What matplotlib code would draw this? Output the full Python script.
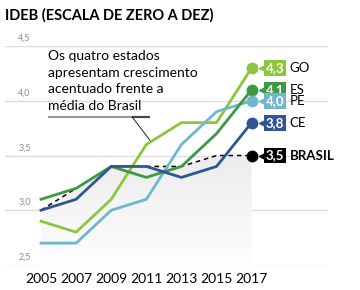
import numpy as np
import matplotlib.pyplot as plt
from matplotlib.patches import Polygon

years = [2005, 2007, 2009, 2011, 2013, 2015, 2017]
go = [2.9, 2.8, 3.1, 3.6, 3.8, 3.8, 4.3]
es = [3.1, 3.2, 3.4, 3.3, 3.4, 3.7, 4.1]
pe = [2.7, 2.7, 3.0, 3.1, 3.6, 3.9, 4.0]
ce = [3.0, 3.1, 3.4, 3.4, 3.3, 3.4, 3.8]
brasil = [3.0, 3.2, 3.4, 3.4, 3.4, 3.5, 3.5]
yticks = [2.5, 3.0, 3.5, 4.0, 4.5]

plt.rcParams['font.family'] = ['Lato', 'DejaVu Sans']

fig = plt.figure(figsize=(3.6, 2.9), dpi=100)
ax = fig.add_axes([5 / 360, 1 - 265 / 290, 323 / 360, 219 / 290])
ax.set_xlim(2002.95, 2021.35)
ax.set_ylim(2.5, 4.5)
ax.axis('off')

# gridlines + y labels
for t in yticks:
    ax.axhline(t, color='#dddddd', lw=1, zorder=0)
    ax.text(2003.7, t + 0.03, f"{t:.1f}".replace('.', ','), color='#8a8a8a',
            fontsize=6.5, va='bottom', ha='left')

# gradient fill under Brasil
verts = [(years[0], 2.5)] + list(zip(years, brasil)) + [(years[-1], 2.5)]
poly = Polygon(verts, closed=True, facecolor='none', edgecolor='none')
ax.add_patch(poly)
grad = np.linspace(0, 1, 256).reshape(-1, 1)
img = ax.imshow(grad, extent=[years[0], years[-1], 2.5, 3.5], aspect='auto',
                cmap='Greys', vmin=-0.1, vmax=7, origin='lower', zorder=1)
img.set_clip_path(poly)

ax.plot(years, brasil, color='black', lw=1.1, ls=(0, (3, 2.5)), zorder=2)
series = [(go, '#8cc63f'), (pe, '#6fb6cf'), (es, '#3d9a40'), (ce, '#2f5597')]
for vals, c in series:
    ax.plot(years, vals, color=c, lw=2, zorder=3, solid_joinstyle='round')

# end markers and labels
ends = [(go, '#8cc63f', 'GO'), (es, '#3d9a40', 'ES'), (pe, '#6fb6cf', 'PE'),
        (ce, '#2f5597', 'CE'), (brasil, 'black', 'BRASIL')]
for vals, c, name in ends:
    v = vals[-1]
    ax.plot(years[-1], v, 'o', color=c, ms=7.5, zorder=4)
    ax.plot(2017.6, v, '<', color=c, ms=4, zorder=4)
    ax.text(2017.8, v, f"{v:.1f}".replace('.', ','), color='white',
            fontsize=9.5, fontweight='bold', va='center', ha='left', zorder=5,
            bbox=dict(boxstyle='square,pad=0.15', fc=c, ec='none'))
    ax.text(2019.15, v, name, color='black', fontsize=9.5,
            fontweight='bold' if name == 'BRASIL' else 'normal',
            va='center', ha='left', zorder=5)

# annotation
ax.text(2005.4, 4.46, "Os quatro estados\napresentam crescimento\nacentuado frente a\nmédia do Brasil",
        fontsize=10, va='top', ha='left', linespacing=1.45)
ax.plot([2005.4, 2011.2], [3.85, 3.85], color='#999999', lw=1.5, solid_capstyle='butt')
ax.plot([2010.2, 2011.2], [3.85, 3.85], color='#444444', lw=1.5, solid_capstyle='butt')
ax.plot([2010.2, 2011.3], [3.85, 3.62], color='black', lw=0.6)

# x labels
for y in years:
    ax.text(y, 2.43, str(y), fontsize=10, ha='center', va='top')

fig.text(5 / 360, 1 - 15 / 290, "IDEB (ESCALA DE ZERO A DEZ)", fontsize=10.5,
         fontweight='bold', va='center', ha='left')

fig.savefig('out.png', dpi=100)
